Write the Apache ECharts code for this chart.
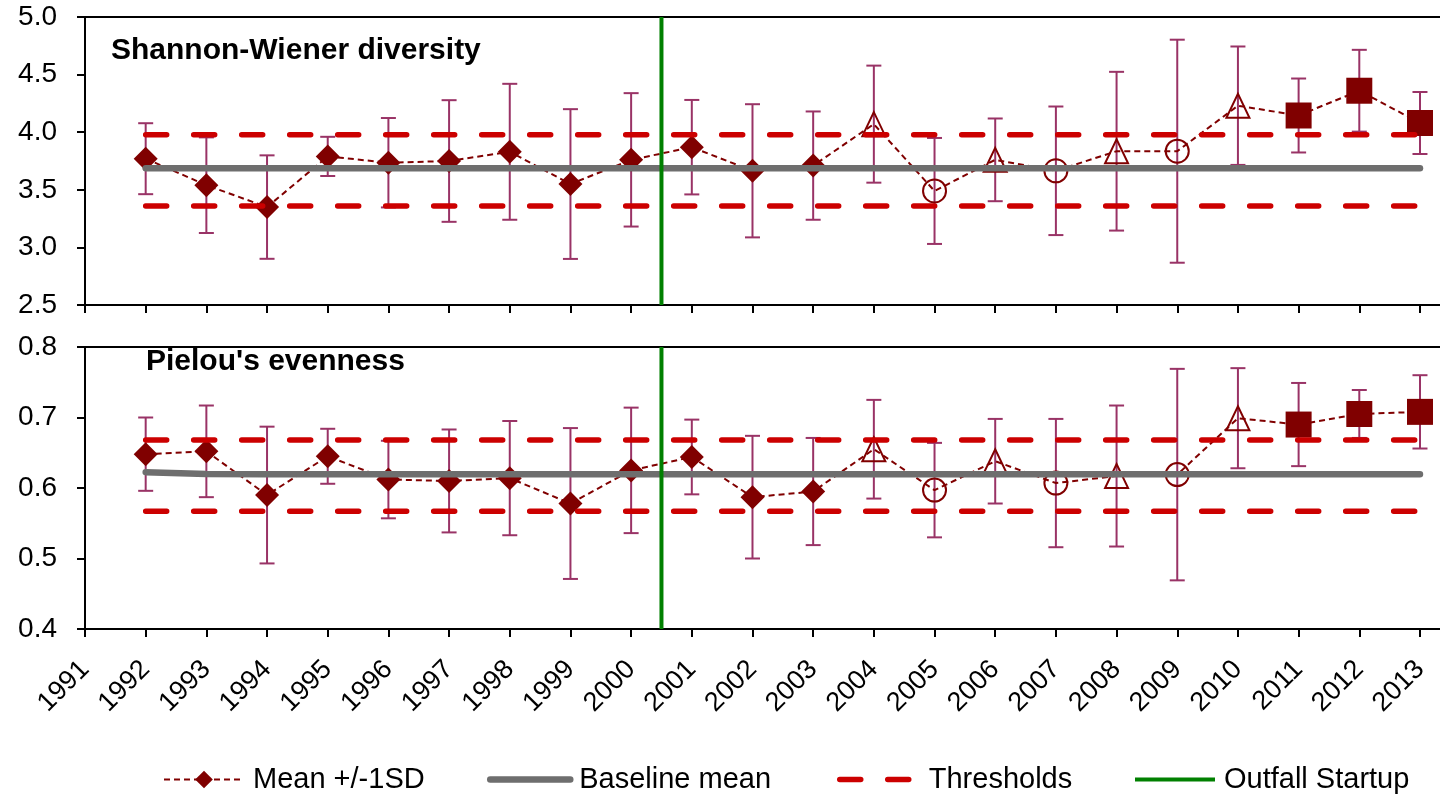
<!DOCTYPE html>
<html>
<head>
<meta charset="utf-8">
<title>Benthic diversity and evenness, 1992-2013</title>
<script src="https://cdn.jsdelivr.net/npm/echarts@6/dist/echarts.min.js"></script>
<style>
  html, body { margin: 0; padding: 0; background: #ffffff; }
  #chart { width: 1440px; height: 796px; }
</style>
</head>
<body>
<div id="chart"></div>
<script>
// ---- data -------------------------------------------------------------
const axisYears = [1991, 1992, 1993, 1994, 1995, 1996, 1997, 1998, 1999, 2000, 2001, 2002,
                   2003, 2004, 2005, 2006, 2007, 2008, 2009, 2010, 2011, 2012, 2013];
const years = [1992, 1993, 1994, 1995, 1996, 1997, 1998, 1999, 2000, 2001, 2002,
               2003, 2004, 2005, 2006, 2007, 2008, 2009, 2010, 2011, 2012, 2013];

// marker shape used for each survey year
const markerKinds = ['diamond', 'diamond', 'diamond', 'diamond', 'diamond', 'diamond',
                     'diamond', 'diamond', 'diamond', 'diamond', 'diamond', 'diamond',
                     'triangle', 'circle', 'triangle', 'circle', 'triangle', 'circle',
                     'triangle', 'square', 'square', 'square'];

// Shannon-Wiener diversity
const shannonMean = [3.77, 3.54, 3.35, 3.79, 3.735, 3.75, 3.83, 3.55, 3.76, 3.87, 3.665,
                     3.71, 4.07, 3.49, 3.76, 3.665, 3.835, 3.835, 4.23, 4.145, 4.36, 4.08];
const shannonSD = [0.308, 0.415, 0.449, 0.17, 0.388, 0.528, 0.59, 0.65, 0.579, 0.41, 0.578,
                   0.47, 0.508, 0.46, 0.359, 0.558, 0.689, 0.968, 0.514, 0.321, 0.355, 0.269];
const shannonBaseline = [3.686, 3.686, 3.686, 3.686, 3.686, 3.686, 3.686, 3.686, 3.686, 3.686, 3.686,
                         3.686, 3.686, 3.686, 3.686, 3.686, 3.686, 3.686, 3.686, 3.686, 3.686, 3.686];
const shannonThresholds = [3.36, 3.978];
const shannonTicks = { min: 2.5, max: 5.0, step: 0.5 };

// Pielou's evenness
const pielouMean = [0.648, 0.652, 0.59, 0.645, 0.612, 0.61, 0.614, 0.578, 0.625, 0.644, 0.587,
                    0.595, 0.655, 0.597, 0.638, 0.607, 0.617, 0.619, 0.699, 0.69, 0.705, 0.708];
const pielouSD = [0.052, 0.065, 0.097, 0.039, 0.055, 0.073, 0.081, 0.107, 0.089, 0.053, 0.087,
                  0.076, 0.07, 0.067, 0.06, 0.091, 0.1, 0.15, 0.071, 0.059, 0.034, 0.052];
const pielouBaseline = [0.6225, 0.6197, 0.6195, 0.6195, 0.6195, 0.6195, 0.6195, 0.6195, 0.6195, 0.6195, 0.6195,
                        0.6195, 0.6195, 0.6195, 0.6195, 0.6195, 0.6195, 0.6195, 0.6195, 0.6195, 0.6195, 0.6195];
const pielouThresholds = [0.567, 0.668];
const pielouTicks = { min: 0.4, max: 0.8, step: 0.1 };

const outfallYear = 2000.5;
const xMax = 2013.33;

// ---- styling ----------------------------------------------------------
const FONT = "'Liberation Sans', Arial, Helvetica, sans-serif";
const DARK_RED = '#800000';
const BAR_COLOR = '#993366';
const GREY = '#6e6e6e';
const RED = '#cc0000';
const GREEN = '#008000';

const markerStyles = {
  diamond:  { symbol: 'diamond',  symbolSize: 24,       hollow: false },
  triangle: { symbol: 'triangle', symbolSize: [23, 24], hollow: true },
  circle:   { symbol: 'circle',   symbolSize: 23,       hollow: true },
  square:   { symbol: 'rect',     symbolSize: 26,       hollow: false }
};

function meanPoints(means) {
  return years.map((yr, i) => {
    const m = markerStyles[markerKinds[i]];
    return {
      value: [yr, means[i]],
      symbol: m.symbol,
      symbolSize: m.symbolSize,
      itemStyle: m.hollow
        ? { color: 'rgba(0,0,0,0)', borderColor: DARK_RED, borderWidth: 2 }
        : { color: DARK_RED, borderWidth: 0 }
    };
  });
}

function errorBars(means, sds) {
  return years.map((yr, i) => [yr, means[i] - sds[i], means[i] + sds[i]]);
}

function renderErrorBar(params, api) {
  const x = api.value(0);
  const lo = api.coord([x, api.value(1)]);
  const hi = api.coord([x, api.value(2)]);
  const half = 7.5;
  const style = { stroke: BAR_COLOR, lineWidth: 2, fill: null };
  return {
    type: 'group',
    children: [
      { type: 'line', shape: { x1: lo[0], y1: lo[1], x2: hi[0], y2: hi[1] }, style },
      { type: 'line', shape: { x1: lo[0] - half, y1: lo[1], x2: lo[0] + half, y2: lo[1] }, style },
      { type: 'line', shape: { x1: hi[0] - half, y1: hi[1], x2: hi[0] + half, y2: hi[1] }, style }
    ]
  };
}

function panelSeries(idx, means, sds, baseline, thresholds, ticks) {
  const first = years[0], last = years[years.length - 1];
  const list = [
    {
      type: 'custom', xAxisIndex: idx, yAxisIndex: idx, z: 2,
      renderItem: renderErrorBar,
      encode: { x: 0, y: [1, 2] },
      data: errorBars(means, sds),
      silent: true
    },
    {
      name: 'Mean +/-1SD', type: 'line', xAxisIndex: idx, yAxisIndex: idx, z: 3,
      symbol: 'diamond', symbolSize: 24, showAllSymbol: true,
      itemStyle: { color: DARK_RED },
      lineStyle: { color: DARK_RED, width: 2, type: [6, 4] },
      data: meanPoints(means)
    },
    {
      name: 'Baseline mean', type: 'line', xAxisIndex: idx, yAxisIndex: idx, z: 4,
      symbol: 'none', smooth: false,
      lineStyle: { color: GREY, width: 6.5, cap: 'round', join: 'round' },
      itemStyle: { color: GREY },
      data: years.map((yr, i) => [yr, baseline[i]])
    }
  ];
  thresholds.forEach(v => {
    list.push({
      name: 'Thresholds', type: 'line', xAxisIndex: idx, yAxisIndex: idx, z: 5,
      symbol: 'none',
      lineStyle: { color: RED, width: 5.5, type: [21, 27], cap: 'round' },
      itemStyle: { color: RED },
      data: [[first, v], [last, v]]
    });
  });
  list.push({
    name: 'Outfall Startup', type: 'line', xAxisIndex: idx, yAxisIndex: idx, z: 6,
    symbol: 'none',
    lineStyle: { color: GREEN, width: 4 },
    itemStyle: { color: GREEN },
    data: [[outfallYear, ticks.min], [outfallYear, ticks.max]]
  });
  return list;
}

function bottomXAxis(gridIndex, showLabels) {
  return {
    type: 'value', gridIndex, position: 'bottom',
    min: 1991, max: xMax, interval: 1,
    axisLine: { show: true, onZero: false, lineStyle: { color: '#000', width: 2 } },
    axisTick: { show: true, inside: false, length: 8, lineStyle: { color: '#000', width: 2 },
                customValues: axisYears },
    axisLabel: {
      show: showLabels, rotate: 45, margin: 36, fontSize: 27, color: '#000', fontFamily: FONT,
      customValues: axisYears,
      formatter: v => (Number.isInteger(v) ? String(v) : '')
    },
    splitLine: { show: false }
  };
}

function topXAxis(gridIndex) {
  return {
    type: 'value', gridIndex, position: 'top',
    min: 1991, max: xMax,
    axisLine: { show: true, onZero: false, lineStyle: { color: '#000', width: 2 } },
    axisTick: { show: false }, axisLabel: { show: false }, splitLine: { show: false }
  };
}

function yAxis(gridIndex, ticks) {
  return {
    type: 'value', gridIndex,
    min: ticks.min, max: ticks.max, interval: ticks.step,
    axisLine: { show: true, onZero: false, lineStyle: { color: '#000', width: 2 } },
    axisTick: { show: true, inside: false, length: 8, lineStyle: { color: '#000', width: 2 } },
    axisLabel: { fontSize: 28, color: '#000', margin: 28, fontFamily: FONT,
                 formatter: v => v.toFixed(1) },
    splitLine: { show: false }
  };
}

// one legend block per entry so each sits at its own spot along the bottom;
// plain line entries hide the default marker and keep the series' own stroke
function legendItem(name, left, lineOnly) {
  const item = {
    data: [name], left, top: 760, orient: 'horizontal',
    itemWidth: 80, itemHeight: 22,
    selectedMode: false,
    textStyle: { fontSize: 29, color: '#000', fontFamily: FONT, padding: [0, 0, 0, 4] }
  };
  if (lineOnly) {
    item.itemStyle = { opacity: 0 };
    item.lineStyle = { width: 'inherit', type: 'inherit', cap: 'inherit' };
  }
  return item;
}

const chart = echarts.init(document.getElementById('chart'), null, { renderer: 'canvas' });

chart.setOption({
  backgroundColor: '#ffffff',
  animation: false,
  textStyle: { fontFamily: FONT },
  title: [
    { text: 'Shannon-Wiener diversity', left: 106, top: 31,
      textStyle: { fontSize: 30, fontWeight: 'bold', color: '#000', fontFamily: FONT } },
    { text: "Pielou's evenness", left: 141, top: 342,
      textStyle: { fontSize: 30, fontWeight: 'bold', color: '#000', fontFamily: FONT } }
  ],
  grid: [
    { left: 85, top: 17, right: 0, height: 288 },
    { left: 85, top: 347, right: 0, height: 282 }
  ],
  xAxis: [bottomXAxis(0, false), bottomXAxis(1, true), topXAxis(0), topXAxis(1)],
  yAxis: [yAxis(0, shannonTicks), yAxis(1, pielouTicks)],
  legend: [
    legendItem('Mean +/-1SD', 158, false),
    legendItem('Baseline mean', 482, true),
    legendItem('Thresholds', 832, true),
    legendItem('Outfall Startup', 1128, true)
  ],
  series: [
    ...panelSeries(0, shannonMean, shannonSD, shannonBaseline, shannonThresholds, shannonTicks),
    ...panelSeries(1, pielouMean, pielouSD, pielouBaseline, pielouThresholds, pielouTicks)
  ]
});
</script>
</body>
</html>
